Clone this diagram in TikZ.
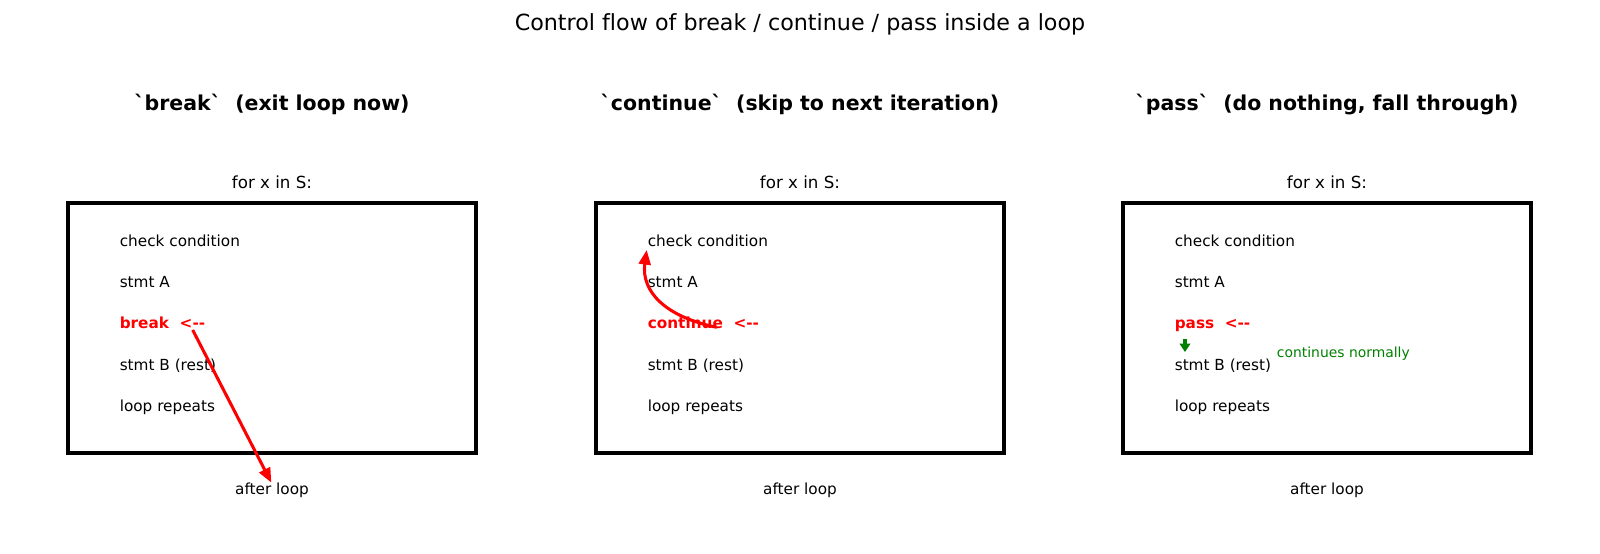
\documentclass[tikz,border=0pt]{standalone}
\usepackage{fontspec}
\setmainfont{DejaVu Sans}[Ligatures={TeXOff,CommonOff}]
\usetikzlibrary{arrows.meta}

\begin{document}
\begin{tikzpicture}[x=0.72pt,y=-0.72pt]
	\tikzstyle{every node}=[inner sep=0pt]
	\tikzstyle{loopbox}=[draw,line width=2.3pt,minimum width=293.8pt,minimum height=180pt]
	\tikzstyle{panelhead}=[anchor=base,font=\fontsize{14.75}{17}\selectfont\bfseries]
	\tikzstyle{caption}=[anchor=base,font=\fontsize{11}{13}\selectfont]
	\tikzstyle{stmt}=[anchor=base west,font=\fontsize{11}{13}\selectfont]
	\tikzstyle{kwline}=[stmt,text=red,font=\fontsize{11}{13}\selectfont\bfseries]
	\tikzstyle{flow}=[red,line width=2.2pt,-{Triangle[length=10.5pt,width=8.5pt]}]
	\tikzstyle{fallthru}=[green!50!black,line width=2.2pt,-{Triangle[length=6pt,width=7.5pt]}]

	\useasboundingbox (0,0) rectangle (1600,554);
	\node[anchor=base,font=\fontsize{16}{19}\selectfont] (title) at (800,30) {Control flow of break / continue / pass inside a loop};

	\foreach \i/\cx/\head/\kw in {1/272/{`break`~~(exit loop now)}/break,
		2/800/{`continue`~~(skip to next iteration)}/continue,
		3/1327/{`pass`~~(do nothing, fall through)}/pass}
	{
		\node[panelhead] (head\i) at (\cx,110) {\head};
		\node[caption,font=\fontsize{12}{14}\selectfont] (for\i) at (\cx,188) {for x in S:};
		\node[loopbox] (box\i) at (\cx,328) {};
		\node[stmt] (cond\i) at (\cx-152.5,246) {check condition};
		\node[stmt] (sa\i) at (\cx-152.5,287) {stmt A};
		\node[kwline] (kw\i) at (\cx-152.5,328) {\kw~~<--};
		\node[stmt] (sb\i) at (\cx-152.5,370.5) {stmt B (rest)};
		\node[stmt] (rep\i) at (\cx-152.5,411) {loop repeats};
		\node[caption] (after\i) at (\cx,494.5) {after loop};
	}

	% break jumps out of the loop
	\coordinate (brk1) at (192.7,330);
	\draw[flow] (brk1) -- ([xshift=-0.5pt]after1.north);

	% continue goes back to the check
	\coordinate (cont2) at (716.7,327.3);
	\coordinate (back2) at (646.7,250);
	\draw[flow] (cont2) .. controls (664.4,316.6) and (641.1,290.9) .. (back2);

	% pass falls through
	\coordinate (pass3) at (1185,339);
	\coordinate (next3) at (1185,352);
	\draw[fallthru] (pass3) -- (next3);
	\node[anchor=base west,text=green!50!black,font=\fontsize{10}{12}\selectfont] (normal3) at (1276.7,357) {continues normally};
\end{tikzpicture}
\end{document}
